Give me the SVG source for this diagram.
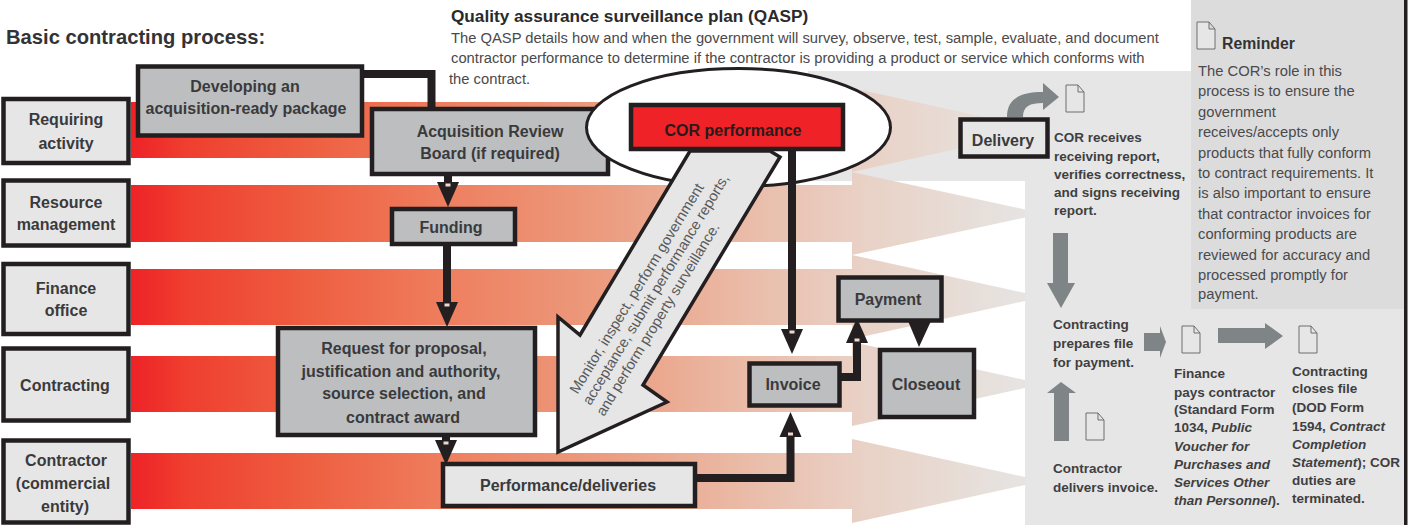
<svg xmlns="http://www.w3.org/2000/svg" width="1417" height="525" viewBox="0 0 1417 525">
<style>
text{font-family:"Liberation Sans",Arial,sans-serif}
.b{stroke:#231f20;stroke-width:4.5}
.lt{fill:#e6e6e6}.gr{fill:#bcbec0}
.lbl{font-size:16px;font-weight:700;fill:#3a3a3c;text-anchor:middle}
.body{font-size:14.75px;fill:#4a4a4c}
.note{font-size:13.5px;font-weight:700;fill:#3f3f41}
.adv{font-size:14.7px;fill:#58595b;text-anchor:middle}
.con{fill:none;stroke:#231f20;stroke-width:8}
.ga{fill:#7f8587}
.doc{fill:#e6e6e6;stroke:#6d6e71;stroke-width:1}
.band{fill:url(#g)}
</style>
<defs>
<linearGradient id="g" gradientUnits="userSpaceOnUse" x1="131" y1="0" x2="1025" y2="0">
<stop offset="0" stop-color="#ee2227"/>
<stop offset="0.06" stop-color="#ef3e2f"/>
<stop offset="0.2" stop-color="#ee5f41"/>
<stop offset="0.36" stop-color="#ee8060"/>
<stop offset="0.52" stop-color="#ec9a7d"/>
<stop offset="0.68" stop-color="#eabaa6"/>
<stop offset="0.81" stop-color="#e9d0c4"/>
<stop offset="1" stop-color="#e6e4e2"/>
</linearGradient>
<marker id="ah" markerUnits="userSpaceOnUse" markerWidth="26" markerHeight="24" viewBox="0 0 26 24" refX="0" refY="12" orient="auto">
<path d="M0 1L25 12L0 23Z" fill="#231f20"/><rect x="1.500" y="9.500" width="3" height="5" fill="#efd9cf"/>
</marker>
<path id="d" d="M0 0H12L18 7V27H0Z M12 0V7H18"/>
</defs>

<g id="panels">
<rect x="808" y="71" width="217" height="110" fill="#e6e6e6"/>
<rect x="1025" y="71" width="380" height="454" fill="#e6e6e6"/>
<rect x="1191" y="0" width="214" height="309" fill="#dcdcdc"/>
<rect x="1404" y="0" width="3.500" height="525" fill="#231f20"/>
</g>

<g id="bands">
<path class="band" d="M131 102H852V88L1025 126V134L852 172V158H131Z"/>
<path class="band" d="M131 185H852V172L1025 209.500V217.500L852 255V242H131Z"/>
<path class="band" d="M131 269H852V255L1025 293V301L852 339V325H131Z"/>
<path class="band" d="M131 356H852V342L1025 380V388L852 426V412H131Z"/>
<path class="band" d="M131 453H852V439L1025 477V485L852 523V509H131Z"/>
</g>

<g id="title"><text x="6" y="44" font-size="20.200" font-weight="700" fill="#333335">Basic contracting process:</text></g>

<g id="qasp">
<text x="451" y="22" font-size="17.200" font-weight="700" fill="#2a2a2c">Quality assurance surveillance plan (QASP)</text>
<text class="body" x="451" y="43">The QASP details how and when the government will survey, observe, test, sample, evaluate, and document</text>
<text class="body" x="451" y="63">contractor performance to determine if the contractor is providing a product or service which conforms with</text>
<text class="body" x="449" y="84">the contract.</text>
</g>

<g id="connectors">
<path class="con" d="M362 74H431.500V109"/>
<path class="con" d="M448 174V182" marker-end="url(#ah)"/>
<path class="con" d="M447 244V302" marker-end="url(#ah)"/>
<path class="con" d="M446 435V440" marker-end="url(#ah)"/>
<path class="con" d="M695 478H790.500V437" marker-end="url(#ah)"/>
<path class="con" d="M840 377H857V343" marker-end="url(#ah)"/>
<path d="M908 321H931L919 347Z" fill="#231f20"/>
</g>

<g id="node-requiring"><rect class="b lt" x="3.500" y="99" width="125" height="64"/><text class="lbl"><tspan x="66" y="125">Requiring</tspan><tspan x="66" y="149">activity</tspan></text></g>
<g id="node-resource"><rect class="b lt" x="3.500" y="180.500" width="125" height="65"/><text class="lbl"><tspan x="66" y="208">Resource</tspan><tspan x="66" y="230">management</tspan></text></g>
<g id="node-finance"><rect class="b lt" x="3.500" y="264" width="125" height="70"/><text class="lbl"><tspan x="66" y="294">Finance</tspan><tspan x="66" y="316">office</tspan></text></g>
<g id="node-contracting"><rect class="b lt" x="3.500" y="348.500" width="125" height="72"/><text class="lbl" x="65" y="391">Contracting</text></g>
<g id="node-contractor"><rect class="b lt" x="3.500" y="440.500" width="125" height="82"/><text class="lbl"><tspan x="66" y="466">Contractor</tspan><tspan x="63" y="489">(commercial</tspan><tspan x="65" y="512">entity)</tspan></text></g>
<g id="node-developing"><rect class="b gr" x="138" y="66.500" width="224" height="69"/><text class="lbl"><tspan x="245" y="92">Developing an</tspan><tspan x="246" y="114">acquisition-ready package</tspan></text></g>
<g id="node-arb"><rect class="b gr" x="372" y="109" width="236" height="65"/><text class="lbl"><tspan x="490" y="137">Acquisition Review</tspan><tspan x="490" y="159">Board (if required)</tspan></text></g>
<g id="node-funding"><rect class="b gr" x="392" y="209" width="123" height="35"/><text class="lbl" x="451" y="233">Funding</text></g>
<g id="node-rfp"><rect class="b gr" x="278" y="328" width="257" height="107"/><text class="lbl"><tspan x="404" y="354">Request for proposal,</tspan><tspan x="401" y="377">justification and authority,</tspan><tspan x="404" y="399">source selection, and</tspan><tspan x="403" y="423">contract award</tspan></text></g>
<g id="node-performance"><rect class="b lt" x="443" y="464" width="252" height="42"/><text class="lbl" x="568" y="491">Performance/deliveries</text></g>

<g id="cor-ellipse"><ellipse cx="738.500" cy="127.500" rx="152" ry="59" fill="#fff" stroke="#231f20" stroke-width="3"/></g>
<g id="connector-cor-invoice"><path class="con" d="M792 150V329" marker-end="url(#ah)"/></g>
<g id="node-cor"><rect class="b" x="631" y="105" width="212" height="44" fill="#ee2227"/><text class="lbl" x="733" y="136" style="fill:#2b1a1a">COR performance</text></g>
<g id="monitor-arrow">
<path d="M690 151L770 151L780 157L643 385L667 402L558 452V317L580 335Z" fill="#e6e6e6" stroke="#231f20" stroke-width="3.500" stroke-linejoin="miter"/>
<text class="adv" transform="translate(641 291) rotate(-58.600)">Monitor, inspect, perform government</text>
<text class="adv" transform="translate(660 292) rotate(-58.600)">acceptance, submit performance reports,</text>
<text class="adv" transform="translate(662 322) rotate(-58.600)">and perform property surveillance.</text>
</g>
<g id="node-invoice"><rect class="b gr" x="749.500" y="363.500" width="90" height="42"/><text class="lbl" x="793" y="390">Invoice</text></g>
<g id="node-payment"><rect class="b gr" x="838.500" y="277.500" width="103" height="43"/><text class="lbl" x="888" y="305">Payment</text></g>
<g id="node-closeout"><rect class="b gr" x="880" y="350" width="94" height="67"/><text class="lbl" x="926" y="390">Closeout</text></g>
<g id="node-delivery"><rect class="b lt" x="960.500" y="119.500" width="87" height="37"/><text class="lbl" x="1003" y="146">Delivery</text></g>

<g id="process-arrows">
<path class="ga" d="M1007 117C1007 100 1018 92 1043 92V83L1059 97L1043 110V103C1030 103 1023 106 1023 117Z"/>
<path class="ga" d="M1053 233H1068V283H1075L1061 308L1047 283H1053Z"/>
<path class="ga" d="M1054 441V393H1047L1061 382L1076 393H1069V441Z"/>
<path class="ga" d="M1144 333H1160V326L1166 342L1160 358V351H1144Z"/>
<path class="ga" d="M1218 328H1265V323L1283 336L1265 349V343H1218Z"/>
</g>
<g id="documents">
<use href="#d" class="doc" transform="translate(1066 85)"/>
<use href="#d" class="doc" transform="translate(1197 22)"/>
<use href="#d" class="doc" transform="translate(1182 326)"/>
<use href="#d" class="doc" transform="translate(1299 326)"/>
<use href="#d" class="doc" transform="translate(1086 413)"/>
</g>
<g id="reminder">
<text x="1222" y="49" font-size="15.800" font-weight="700" fill="#333335">Reminder</text>
<text class="body">
<tspan x="1198" y="76">The COR’s role in this</tspan>
<tspan x="1198" y="96">process is to ensure the</tspan>
<tspan x="1198" y="117">government</tspan>
<tspan x="1198" y="137">receives/accepts only</tspan>
<tspan x="1198" y="158">products that fully conform</tspan>
<tspan x="1198" y="178">to contract requirements. It</tspan>
<tspan x="1198" y="198">is also important to ensure</tspan>
<tspan x="1198" y="219">that contractor invoices for</tspan>
<tspan x="1198" y="239">conforming products are</tspan>
<tspan x="1198" y="260">reviewed for accuracy and</tspan>
<tspan x="1198" y="280">processed promptly for</tspan>
<tspan x="1198" y="299">payment.</tspan>
</text>
</g>
<g id="notes">
<text class="note"><tspan x="1054" y="142">COR receives</tspan><tspan x="1054" y="161">receiving report,</tspan><tspan x="1054" y="179">verifies correctness,</tspan><tspan x="1054" y="197">and signs receiving</tspan><tspan x="1054" y="215">report.</tspan></text>
<text class="note"><tspan x="1053" y="329">Contracting</tspan><tspan x="1053" y="348">prepares file</tspan><tspan x="1053" y="367">for payment.</tspan></text>
<text class="note"><tspan x="1053" y="473">Contractor</tspan><tspan x="1053" y="492">delivers invoice.</tspan></text>
<text class="note"><tspan x="1174" y="378">Finance</tspan><tspan x="1174" y="397">pays contractor</tspan><tspan x="1174" y="414">(Standard Form</tspan><tspan x="1174" y="432">1034, <tspan font-style="italic">Public</tspan></tspan><tspan x="1174" y="451" font-style="italic">Voucher for</tspan><tspan x="1174" y="469" font-style="italic">Purchases and</tspan><tspan x="1174" y="487" font-style="italic">Services Other</tspan><tspan x="1174" y="505"><tspan font-style="italic">than Personnel</tspan>).</tspan></text>
<text class="note"><tspan x="1292" y="376">Contracting</tspan><tspan x="1292" y="393">closes file</tspan><tspan x="1292" y="412">(DOD Form</tspan><tspan x="1292" y="431">1594, <tspan font-style="italic">Contract</tspan></tspan><tspan x="1292" y="449" font-style="italic">Completion</tspan><tspan x="1292" y="467"><tspan font-style="italic">Statement</tspan>); COR</tspan><tspan x="1292" y="485">duties are</tspan><tspan x="1292" y="503">terminated.</tspan></text>
</g>
</svg>
